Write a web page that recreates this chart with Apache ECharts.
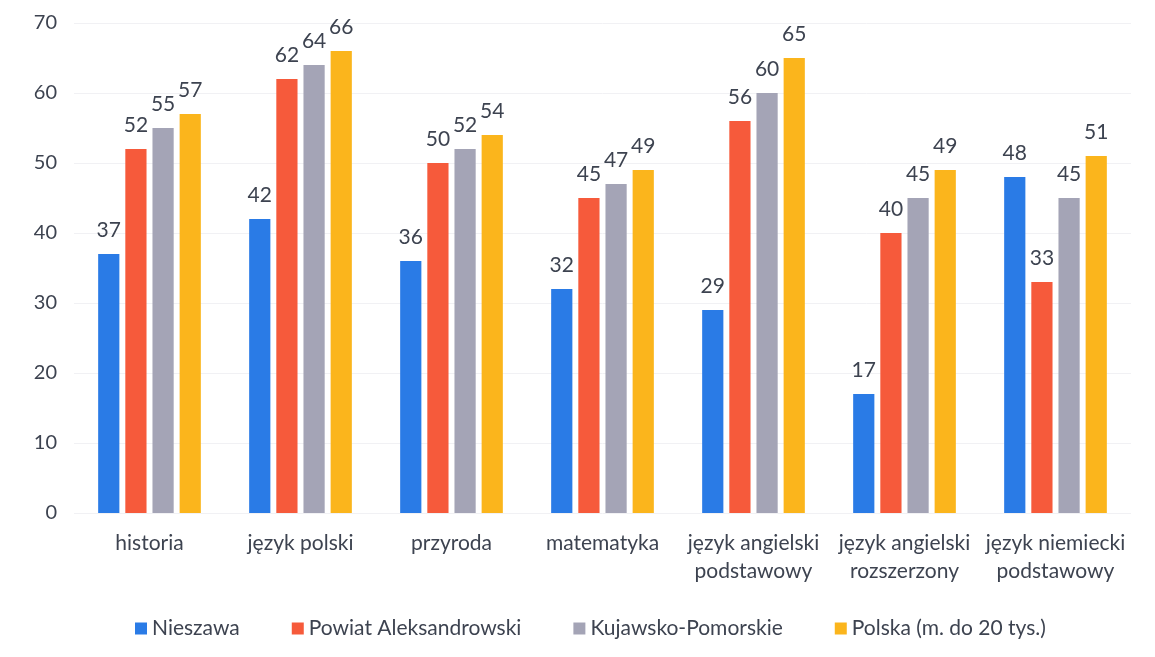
<!DOCTYPE html>
<html>
<head>
<meta charset="utf-8">
<script src="https://cdn.jsdelivr.net/npm/echarts@6/dist/echarts.min.js"></script>
<style>
  html, body { margin: 0; padding: 0; background: #fff; }
  #chart { width: 1155px; height: 657px; }
</style>
</head>
<body>
<div id="chart"></div>
<script>
var categories = ['historia', 'język polski', 'przyroda', 'matematyka',
  'język angielski\npodstawowy', 'język angielski\nrozszerzony', 'język niemiecki\npodstawowy'];
var seriesNames = ['Nieszawa', 'Powiat Aleksandrowski', 'Kujawsko-Pomorskie', 'Polska (m. do 20 tys.)'];
var nieszawa = [37, 42, 36, 32, 29, 17, 48];
var powiat = [52, 62, 50, 45, 56, 40, 33];
var kujawsko = [55, 64, 52, 47, 60, 45, 45];
var polska = [57, 66, 54, 49, 65, 49, 51];
var yTicks = [0, 10, 20, 30, 40, 50, 60, 70];

var colors = ['#2a7be6', '#f65a3b', '#a4a4b6', '#fbb51c'];
var textColor = '#3d4350';
var font = 'Lato, "Open Sans", sans-serif';

var chart = echarts.init(document.getElementById('chart'));

function makeSeries(name, data, i) {
  return {
    name: name,
    type: 'bar',
    data: data,
    barGap: '28%',
    barCategoryGap: '32%',
    itemStyle: { color: colors[i] },
    label: {
      show: true,
      position: 'top',
      distance: 13,
      color: textColor,
      fontSize: 21,
      fontFamily: font
    }
  };
}

chart.setOption({
  color: colors,
  animation: false,
  grid: { left: 74, right: 24, top: 23, bottom: 144 },
  legend: {
    bottom: 13,
    left: 130,
    itemWidth: 12,
    itemHeight: 12,
    itemGap: 52,
    icon: 'rect',
    textStyle: { color: textColor, fontSize: 21, fontFamily: font },
    data: seriesNames
  },
  xAxis: {
    type: 'category',
    data: categories,
    axisLine: { show: false },
    axisTick: { show: false },
    axisLabel: {
      color: textColor,
      fontSize: 21,
      fontFamily: font,
      lineHeight: 28,
      margin: 16,
      interval: 0
    }
  },
  yAxis: {
    type: 'value',
    min: yTicks[0],
    max: yTicks[yTicks.length - 1],
    interval: 10,
    axisLine: { show: false },
    axisTick: { show: false },
    splitLine: { lineStyle: { color: '#f1f1f4' } },
    axisLabel: {
      color: textColor,
      fontSize: 20,
      fontFamily: font,
      margin: 17
    }
  },
  series: [
    makeSeries(seriesNames[0], nieszawa, 0),
    makeSeries(seriesNames[1], powiat, 1),
    makeSeries(seriesNames[2], kujawsko, 2),
    makeSeries(seriesNames[3], polska, 3)
  ]
});
</script>
</body>
</html>
